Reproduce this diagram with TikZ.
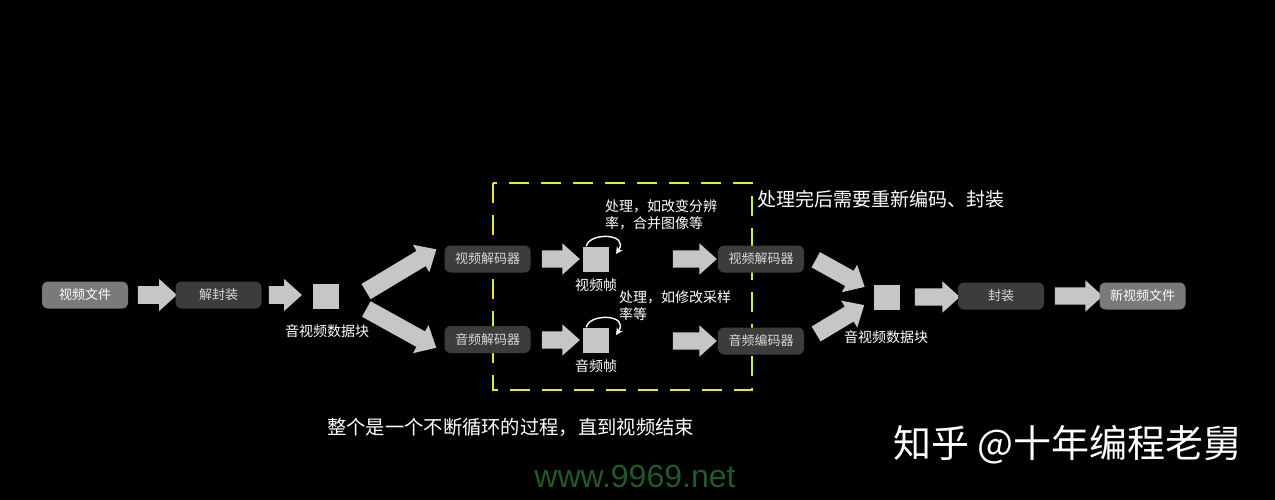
\documentclass[tikz,border=0pt]{standalone}
\usepackage{fontspec}
\newfontfamily\cjk{Noto Sans CJK SC}
\newfontfamily\lat{Liberation Sans}
\usetikzlibrary{shapes.arrows,arrows.meta}
\definecolor{boxlight}{HTML}{7A7A7A}
\definecolor{boxdark}{HTML}{3C3C3C}
\definecolor{blockgray}{HTML}{C6C6C6}
\definecolor{dashyellow}{HTML}{E8E82A}
\definecolor{wmgreen}{HTML}{1F5A28}
\tikzset{
  procbox/.style={rounded corners=6pt, minimum width=86pt, minimum height=27pt, inner sep=0pt, font=\cjk\fontsize{13}{14}\selectfont},
  lightbox/.style={procbox, fill=boxlight, text=white},
  darkbox/.style={procbox, fill=boxdark, text=white!85!black},
  blockarrow/.style={single arrow, fill=blockgray, draw=none, inner sep=0pt, inner ysep=8.5pt, single arrow head extend=7pt, single arrow tip angle=84, minimum height=#1},
  datasq/.style={fill=blockgray, minimum width=26pt, minimum height=25pt, inner sep=0pt},
  lbl/.style={text=white, font=\cjk\fontsize{14}{16}\selectfont, inner sep=0pt},
  loopline/.style={draw=white, line width=1.4pt, -{Stealth[length=7pt,width=7pt]}}
}
\begin{document}
\begin{tikzpicture}[x=1pt,y=-1pt]
\fill[black] (0,0) rectangle (1275,500);
\useasboundingbox (0,0) rectangle (1275,500);

% dashed frame
\draw[dashyellow, line width=2.2pt, dash pattern=on 20pt off 12pt] (493,183) rectangle (752,390);

% left chain
\node[lightbox] (file) at (85,295) {视频文件};
\node[blockarrow=39pt, minimum width=32pt] (a1) at (152.5,295) {};
\node[darkbox] (demux) at (218.5,295) {解封装};
\node[blockarrow=33pt, minimum width=32pt] (a2) at (280.5,295) {};
\node[datasq] (pkt1) at (326,296) {};
\node[lbl] (pkt1l) at (327,331) {音视频数据块};

\node[blockarrow=82pt, minimum width=32pt, rotate=31] (a3) at (397,273) {};
\node[blockarrow=80pt, minimum width=32pt, rotate=-29] (a4) at (397,326) {};

% decoders
\node[darkbox] (vdec) at (487.5,259) {视频解码器};
\node[darkbox] (adec) at (487.5,339.5) {音频解码器};
\node[blockarrow=38pt, minimum width=27pt] (a5) at (556,259) {};
\node[blockarrow=38pt, minimum width=27pt] (a6) at (556,340) {};

% frames
\node[datasq] (vfr) at (595.5,259) {};
\node[lbl] (vfrl) at (596,285) {视频帧};
\node[datasq] (afr) at (595.5,340) {};
\node[lbl] (afrl) at (596,366) {音频帧};
\draw[loopline] (vfr.north west) ++(4,0) .. controls (589,232) and (630,233) .. (616,254);
\draw[loopline] (afr.north west) ++(4,0) .. controls (589,313) and (630,314) .. (616,335);

\node[lbl, align=left, anchor=north west, font=\cjk\fontsize{14}{17.5}\selectfont] (vproc) at (605,199) {处理，如改变分辨\\率，合并图像等};
\node[lbl, align=left, anchor=north west, font=\cjk\fontsize{14}{17.5}\selectfont] (aproc) at (619,290) {处理，如修改采样\\率等};

\node[blockarrow=44pt, minimum width=28pt] (a7) at (690,259) {};
\node[blockarrow=44pt, minimum width=28pt] (a8) at (690,341) {};

% encoders
\node[darkbox] (venc) at (761,259) {视频解码器};
\node[darkbox] (aenc) at (761,341) {音频编码器};

\node[lbl, anchor=west, font=\cjk\fontsize{19}{21}\selectfont] (redo) at (757,199) {处理完后需要重新编码、封装};

\node[blockarrow=56pt, minimum width=30pt, rotate=-29] (a9) at (836,271) {};
\node[blockarrow=56pt, minimum width=30pt, rotate=31] (a10) at (836,322) {};

\node[datasq] (pkt2) at (886.5,297) {};
\node[lbl] (pkt2l) at (886,337) {音视频数据块};

\node[blockarrow=45pt, minimum width=31pt] (a11) at (932.5,297) {};
\node[darkbox] (mux) at (1001,296) {封装};
\node[blockarrow=48pt, minimum width=31pt] (a12) at (1074,296) {};
\node[lightbox] (newfile) at (1142.5,296) {新视频文件};

% bottom texts
\node[lbl, anchor=west, font=\cjk\fontsize{19.3}{21}\selectfont] (loop) at (327,427) {整个是一个不断循环的过程，直到视频结束};
\node[text=wmgreen, font=\lat\fontsize{32}{34}\selectfont, inner sep=0pt] (wm1) at (635,476) {www.9969.net};
\node[text=white, font=\cjk\fontsize{38}{40}\selectfont, inner sep=0pt, anchor=west] (wm2) at (893,445) {知乎 @十年编程老舅};
\end{tikzpicture}
\end{document}
